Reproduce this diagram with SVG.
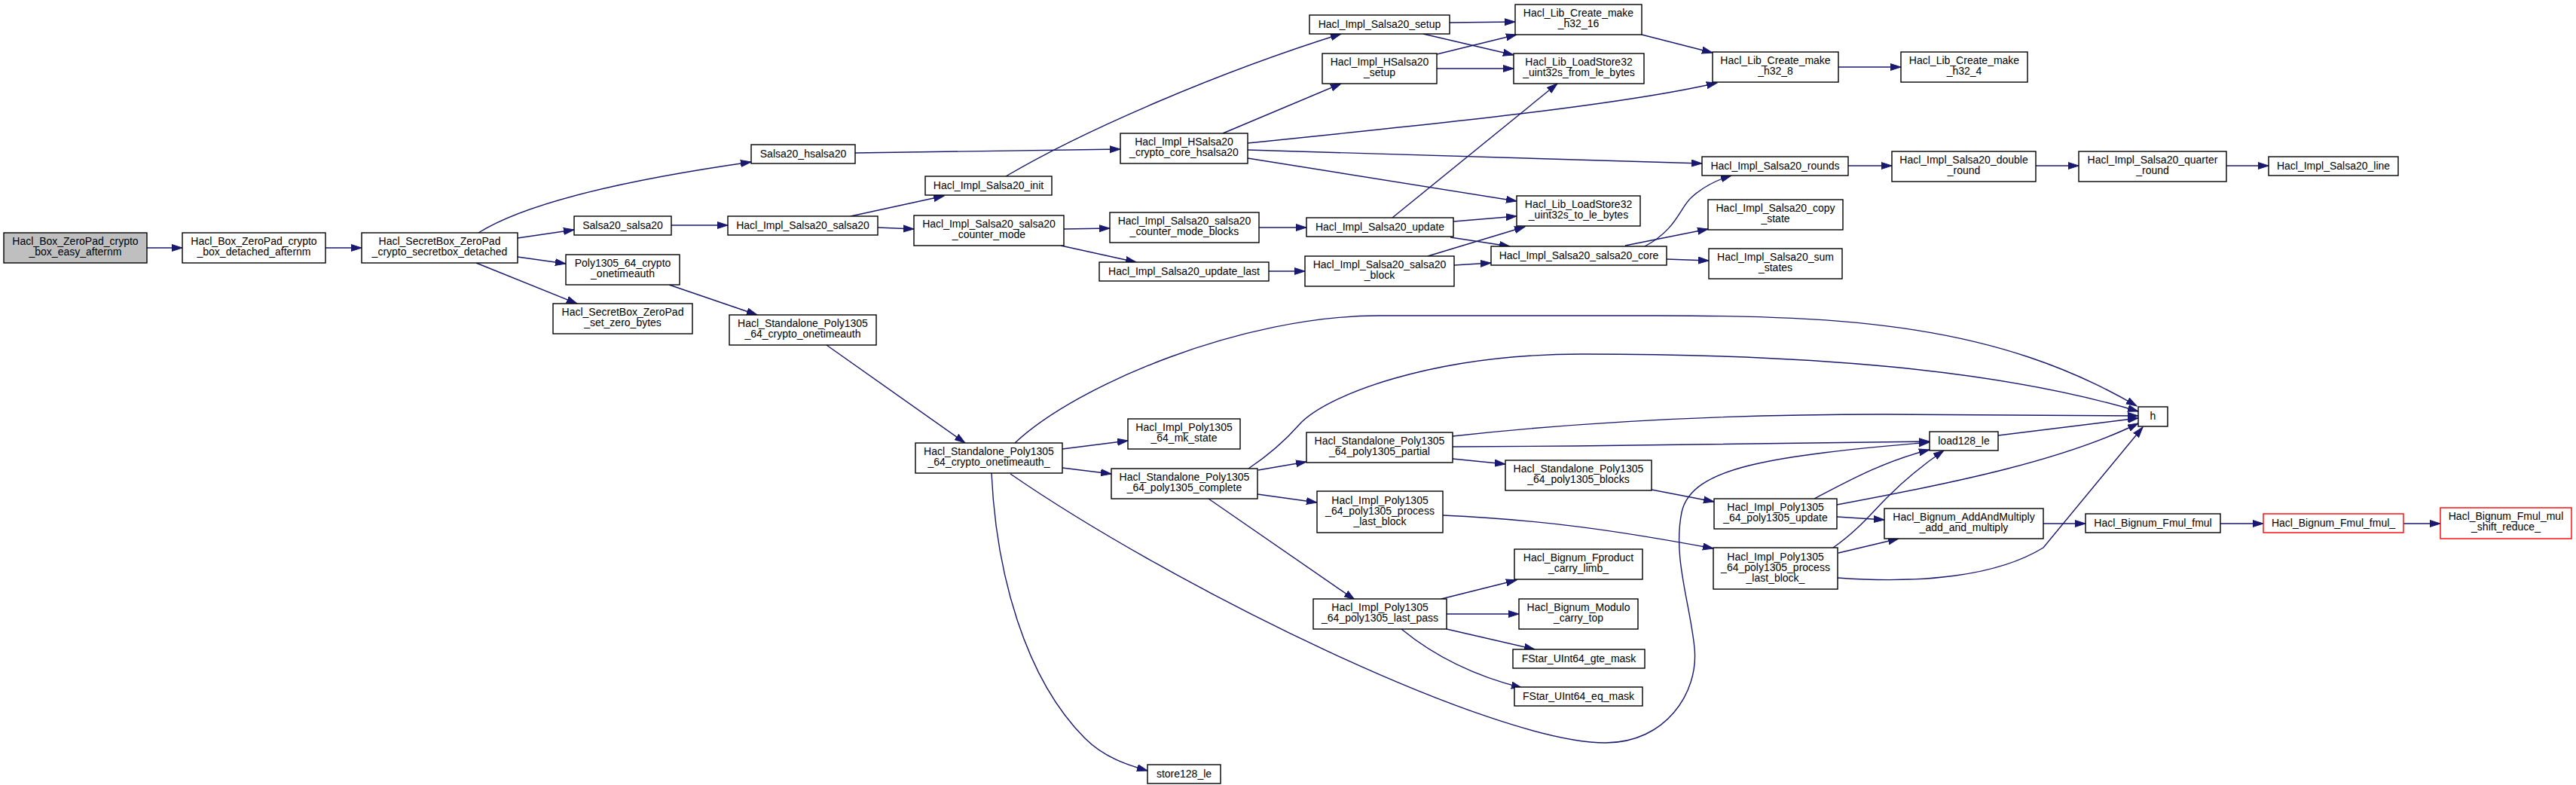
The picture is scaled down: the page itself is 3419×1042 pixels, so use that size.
<svg xmlns="http://www.w3.org/2000/svg" width="3419" height="1042" viewBox="0 0 3419 1042">
<defs>
<style>
.n rect{fill:#ffffff;stroke:#000000;stroke-width:1.4}
.n.root rect{fill:#bfbfbf}
.n.trunc rect{stroke:#ff0000}
.n text{font-family:"Liberation Sans",Arial,sans-serif;font-size:14px;text-anchor:middle;fill:#000000}
.e path{fill:none;stroke:#191970;stroke-width:1.4;marker-end:url(#a)}
</style>
<marker id="a" markerUnits="userSpaceOnUse" markerWidth="16" markerHeight="12" refX="14" refY="5" orient="auto">
<path d="M0,0.5 L14,5 L0,9.5 z" fill="#191970" stroke="#191970" stroke-width="1"/>
</marker>
</defs>
<rect width="3419" height="1042" fill="#ffffff"/>
<g id="edges" class="e">
<path d="M195,329 L242,329"/>
<path d="M432,329 L480,329"/>
<path d="M635,309 C705,265 850,236 997,215"/>
<path d="M687,316 L762,305"/>
<path d="M687,341 L751,350"/>
<path d="M632,349 L766,403"/>
<path d="M1135,203 L1487,198"/>
<path d="M891,299 L966,299"/>
<path d="M888,378 L1005,418"/>
<path d="M1129,287 L1253,260"/>
<path d="M1165,302 L1213,304"/>
<path d="M1335,234 C1440,172 1620,95 1780,45"/>
<path d="M1623,177 L1780,111"/>
<path d="M1656,190 C1900,165 2150,140 2279,110"/>
<path d="M1656,199 L2259,217"/>
<path d="M1656,210 L2013,267"/>
<path d="M1412,304 L1473,303"/>
<path d="M1408,326 L1508,348"/>
<path d="M1671,302 L1734,302"/>
<path d="M1684,360 L1732,360"/>
<path d="M1924,30 L2011,29"/>
<path d="M1889,45 L2009,73"/>
<path d="M1907,72 L2013,46"/>
<path d="M1907,91 L2009,91"/>
<path d="M2179,46 L2273,70"/>
<path d="M2440,89 L2523,89"/>
<path d="M1848,289 L2067,111"/>
<path d="M1929,294 L2013,287"/>
<path d="M1925,315 L2004,327"/>
<path d="M1895,340 L2024,301"/>
<path d="M1930,352 L1979,349"/>
<path d="M2183,327 C2225,305 2230,275 2245,262 C2258,250 2275,240 2298,233"/>
<path d="M2157,326 L2267,304"/>
<path d="M2212,344 L2268,346"/>
<path d="M2453,220 L2511,220"/>
<path d="M2702,220 L2759,220"/>
<path d="M2955,220 L3011,220"/>
<path d="M1097,458 L1281,588"/>
<path d="M1410,596 L1497,585"/>
<path d="M1410,621 L1475,629"/>
<path d="M1316,628 C1322,760 1360,900 1440,980 C1465,1005 1495,1015 1523,1023"/>
<path d="M1347,588 C1430,510 1650,419 1830,419 L2200,419 C2450,419 2650,430 2836,539"/>
<path d="M1657,622 C1690,600 1710,580 1725,563 C1760,525 1900,470 2100,470 C2400,470 2650,490 2838,546"/>
<path d="M1928,579 C2100,560 2300,550 2500,550 L2838,552"/>
<path d="M1928,593 C2150,592 2400,589 2561,586"/>
<path d="M1928,609 L1998,616"/>
<path d="M1670,624 L1734,613"/>
<path d="M1669,656 L1748,667"/>
<path d="M1604,662 L1798,796"/>
<path d="M1915,684 C2050,690 2150,705 2274,728"/>
<path d="M1913,795 L2013,770"/>
<path d="M1920,815 L2016,815"/>
<path d="M1920,835 L2037,862"/>
<path d="M1860,835 C1905,872 1960,898 2020,913"/>
<path d="M1341,629 C1560,780 1980,986 2131,986 C2210,986 2255,920 2249,860 C2243,800 2220,740 2232,680 C2245,620 2350,605 2561,587"/>
<path d="M2192,650 L2275,666"/>
<path d="M2408,662 C2450,640 2500,612 2561,597"/>
<path d="M2438,686 L2501,690"/>
<path d="M2438,670 C2600,640 2740,610 2838,562"/>
<path d="M2652,578 L2838,555"/>
<path d="M2433,727 C2465,705 2485,680 2505,660 C2530,635 2555,615 2580,598"/>
<path d="M2440,734 L2520,715"/>
<path d="M2439,767 C2550,775 2650,765 2712,727 L2844,567"/>
<path d="M2712,695 L2768,695"/>
<path d="M2947,695 L3004,695"/>
<path d="M3190,695 L3239,695"/>
</g>
<g id="n1" class="n root"><rect x="5" y="309" width="190" height="40"/><text x="100" y="325">Hacl_Box_ZeroPad_crypto</text><text x="100" y="339">_box_easy_afternm</text></g>
<g id="n2" class="n"><rect x="242" y="309" width="190" height="40"/><text x="337" y="325">Hacl_Box_ZeroPad_crypto</text><text x="337" y="339">_box_detached_afternm</text></g>
<g id="n3" class="n"><rect x="480" y="309" width="207" height="40"/><text x="583.5" y="325">Hacl_SecretBox_ZeroPad</text><text x="583.5" y="339">_crypto_secretbox_detached</text></g>
<g id="n4" class="n"><rect x="997" y="192" width="138" height="25"/><text x="1066" y="209">Salsa20_hsalsa20</text></g>
<g id="n5" class="n"><rect x="762" y="287" width="129" height="25"/><text x="826.5" y="304">Salsa20_salsa20</text></g>
<g id="n6" class="n"><rect x="751" y="338" width="151" height="40"/><text x="826.5" y="354">Poly1305_64_crypto</text><text x="826.5" y="368">_onetimeauth</text></g>
<g id="n7" class="n"><rect x="734" y="403" width="185" height="40"/><text x="826.5" y="419">Hacl_SecretBox_ZeroPad</text><text x="826.5" y="433">_set_zero_bytes</text></g>
<g id="n8" class="n"><rect x="1228" y="234" width="168" height="25"/><text x="1312" y="251">Hacl_Impl_Salsa20_init</text></g>
<g id="n9" class="n"><rect x="966" y="287" width="199" height="25"/><text x="1065.5" y="304">Hacl_Impl_Salsa20_salsa20</text></g>
<g id="n10" class="n"><rect x="1213" y="286" width="199" height="40"/><text x="1312.5" y="302">Hacl_Impl_Salsa20_salsa20</text><text x="1312.5" y="316">_counter_mode</text></g>
<g id="n11" class="n"><rect x="1487" y="177" width="169" height="40"/><text x="1571.5" y="193">Hacl_Impl_HSalsa20</text><text x="1571.5" y="207">_crypto_core_hsalsa20</text></g>
<g id="n12" class="n"><rect x="1473" y="282" width="198" height="40"/><text x="1572" y="298">Hacl_Impl_Salsa20_salsa20</text><text x="1572" y="312">_counter_mode_blocks</text></g>
<g id="n13" class="n"><rect x="1459" y="348" width="225" height="25"/><text x="1571.5" y="365">Hacl_Impl_Salsa20_update_last</text></g>
<g id="n14" class="n"><rect x="968" y="418" width="195" height="40"/><text x="1065.5" y="434">Hacl_Standalone_Poly1305</text><text x="1065.5" y="448">_64_crypto_onetimeauth</text></g>
<g id="n15" class="n"><rect x="1738" y="20" width="186" height="25"/><text x="1831" y="37">Hacl_Impl_Salsa20_setup</text></g>
<g id="n16" class="n"><rect x="2011" y="6" width="168" height="40"/><text x="2095" y="22">Hacl_Lib_Create_make</text><text x="2095" y="36">_h32_16</text></g>
<g id="n17" class="n"><rect x="1755" y="71" width="152" height="40"/><text x="1831" y="87">Hacl_Impl_HSalsa20</text><text x="1831" y="101">_setup</text></g>
<g id="n18" class="n"><rect x="2009" y="71" width="173" height="40"/><text x="2095.5" y="87">Hacl_Lib_LoadStore32</text><text x="2095.5" y="101">_uint32s_from_le_bytes</text></g>
<g id="n19" class="n"><rect x="2273" y="69" width="167" height="40"/><text x="2356.5" y="85">Hacl_Lib_Create_make</text><text x="2356.5" y="99">_h32_8</text></g>
<g id="n20" class="n"><rect x="2523" y="69" width="168" height="40"/><text x="2607" y="85">Hacl_Lib_Create_make</text><text x="2607" y="99">_h32_4</text></g>
<g id="n21" class="n"><rect x="2259" y="208" width="194" height="25"/><text x="2356" y="225">Hacl_Impl_Salsa20_rounds</text></g>
<g id="n22" class="n"><rect x="2511" y="201" width="191" height="40"/><text x="2606.5" y="217">Hacl_Impl_Salsa20_double</text><text x="2606.5" y="231">_round</text></g>
<g id="n23" class="n"><rect x="2759" y="201" width="196" height="40"/><text x="2857" y="217">Hacl_Impl_Salsa20_quarter</text><text x="2857" y="231">_round</text></g>
<g id="n24" class="n"><rect x="3011" y="208" width="172" height="25"/><text x="3097" y="225">Hacl_Impl_Salsa20_line</text></g>
<g id="n25" class="n"><rect x="2013" y="260" width="164" height="40"/><text x="2095" y="276">Hacl_Lib_LoadStore32</text><text x="2095" y="290">_uint32s_to_le_bytes</text></g>
<g id="n26" class="n"><rect x="1734" y="289" width="195" height="25"/><text x="1831.5" y="306">Hacl_Impl_Salsa20_update</text></g>
<g id="n27" class="n"><rect x="2267" y="265" width="179" height="40"/><text x="2356.5" y="281">Hacl_Impl_Salsa20_copy</text><text x="2356.5" y="295">_state</text></g>
<g id="n28" class="n"><rect x="1979" y="327" width="233" height="25"/><text x="2095.5" y="344">Hacl_Impl_Salsa20_salsa20_core</text></g>
<g id="n29" class="n"><rect x="1732" y="340" width="198" height="40"/><text x="1831" y="356">Hacl_Impl_Salsa20_salsa20</text><text x="1831" y="370">_block</text></g>
<g id="n30" class="n"><rect x="2268" y="330" width="177" height="40"/><text x="2356.5" y="346">Hacl_Impl_Salsa20_sum</text><text x="2356.5" y="360">_states</text></g>
<g id="n31" class="n"><rect x="1215" y="588" width="195" height="40"/><text x="1312.5" y="604">Hacl_Standalone_Poly1305</text><text x="1312.5" y="618">_64_crypto_onetimeauth_</text></g>
<g id="n32" class="n"><rect x="1497" y="556" width="149" height="40"/><text x="1571.5" y="572">Hacl_Impl_Poly1305</text><text x="1571.5" y="586">_64_mk_state</text></g>
<g id="n33" class="n"><rect x="1475" y="622" width="194" height="40"/><text x="1572" y="638">Hacl_Standalone_Poly1305</text><text x="1572" y="652">_64_poly1305_complete</text></g>
<g id="n34" class="n"><rect x="1523" y="1015" width="97" height="25"/><text x="1571.5" y="1032">store128_le</text></g>
<g id="n35" class="n"><rect x="1734" y="574" width="194" height="40"/><text x="1831" y="590">Hacl_Standalone_Poly1305</text><text x="1831" y="604">_64_poly1305_partial</text></g>
<g id="n36" class="n"><rect x="1748" y="652" width="167" height="55"/><text x="1831.5" y="668.5">Hacl_Impl_Poly1305</text><text x="1831.5" y="682.5">_64_poly1305_process</text><text x="1831.5" y="696.5">_last_block</text></g>
<g id="n37" class="n"><rect x="1743" y="795" width="177" height="40"/><text x="1831.5" y="811">Hacl_Impl_Poly1305</text><text x="1831.5" y="825">_64_poly1305_last_pass</text></g>
<g id="n38" class="n"><rect x="1998" y="611" width="194" height="40"/><text x="2095" y="627">Hacl_Standalone_Poly1305</text><text x="2095" y="641">_64_poly1305_blocks</text></g>
<g id="n39" class="n"><rect x="2010" y="729" width="170" height="40"/><text x="2095" y="745">Hacl_Bignum_Fproduct</text><text x="2095" y="759">_carry_limb_</text></g>
<g id="n40" class="n"><rect x="2016" y="795" width="158" height="40"/><text x="2095" y="811">Hacl_Bignum_Modulo</text><text x="2095" y="825">_carry_top</text></g>
<g id="n41" class="n"><rect x="2008" y="862" width="175" height="25"/><text x="2095.5" y="879">FStar_UInt64_gte_mask</text></g>
<g id="n42" class="n"><rect x="2010" y="912" width="170" height="25"/><text x="2095" y="929">FStar_UInt64_eq_mask</text></g>
<g id="n43" class="n"><rect x="2561" y="573" width="91" height="25"/><text x="2606.5" y="590">load128_le</text></g>
<g id="n44" class="n"><rect x="2275" y="662" width="163" height="40"/><text x="2356.5" y="678">Hacl_Impl_Poly1305</text><text x="2356.5" y="692">_64_poly1305_update</text></g>
<g id="n45" class="n"><rect x="2501" y="675" width="211" height="40"/><text x="2606.5" y="691">Hacl_Bignum_AddAndMultiply</text><text x="2606.5" y="705">_add_and_multiply</text></g>
<g id="n46" class="n"><rect x="2274" y="727" width="165" height="55"/><text x="2356.5" y="743.5">Hacl_Impl_Poly1305</text><text x="2356.5" y="757.5">_64_poly1305_process</text><text x="2356.5" y="771.5">_last_block_</text></g>
<g id="n47" class="n"><rect x="2838" y="540" width="39" height="26"/><text x="2857.5" y="557">h</text></g>
<g id="n48" class="n"><rect x="2768" y="682" width="179" height="25"/><text x="2857.5" y="699">Hacl_Bignum_Fmul_fmul</text></g>
<g id="n49" class="n trunc"><rect x="3004" y="682" width="186" height="25"/><text x="3097" y="699">Hacl_Bignum_Fmul_fmul_</text></g>
<g id="n50" class="n trunc"><rect x="3239" y="674" width="174" height="41"/><text x="3326" y="690">Hacl_Bignum_Fmul_mul</text><text x="3326" y="704">_shift_reduce_</text></g>
</svg>
